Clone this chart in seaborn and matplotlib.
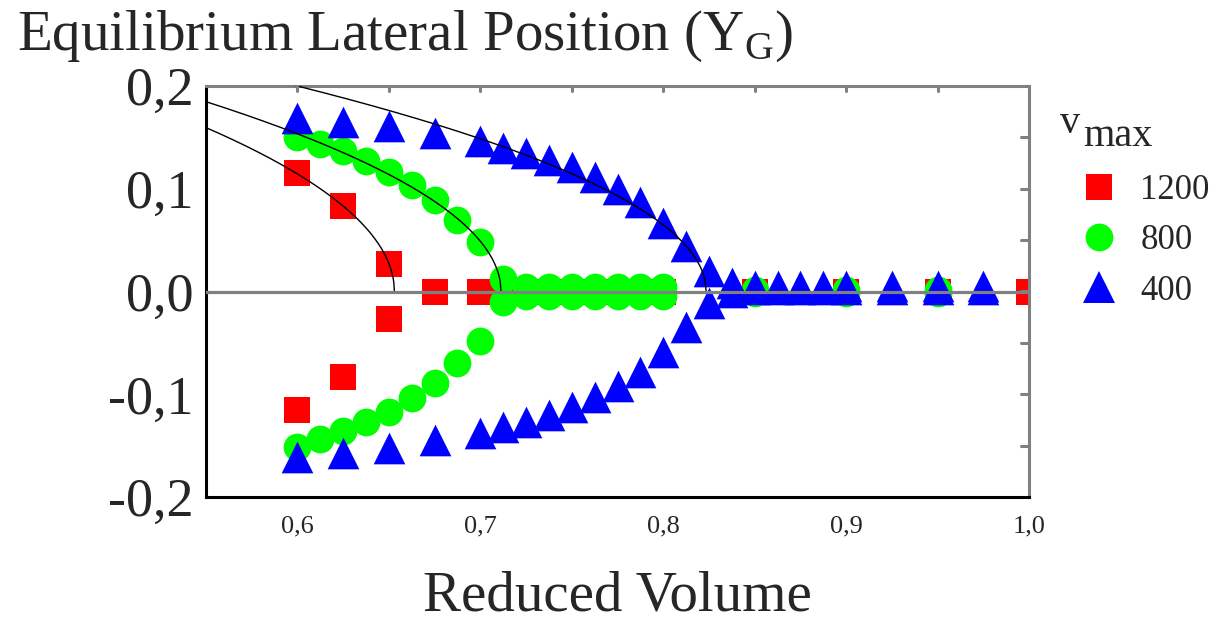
import numpy as np
import pandas as pd
import matplotlib
matplotlib.use("Agg")
import matplotlib.pyplot as plt
import seaborn as sns
from matplotlib.lines import Line2D
from matplotlib.ticker import MultipleLocator, FuncFormatter

# reduced volume for each v_max series (upper and lower branches share x)
vol_1200 = [0.6, 0.625, 0.65, 0.675, 0.7, 0.7125, 0.725, 0.7375, 0.75, 0.7625,
            0.775, 0.7875, 0.8, 0.85, 0.9, 0.95, 1.0]
yg_1200_up = [0.115, 0.083, 0.027, 0.0, 0.0, 0.0, 0.0, 0.0, 0.0, 0.0,
              0.0, 0.0, 0.0, 0.0, 0.0, 0.0, 0.0]
yg_1200_lo = [-0.115, -0.083, -0.027, 0.0, 0.0, 0.0, 0.0, 0.0, 0.0, 0.0,
              0.0, 0.0, 0.0, 0.0, 0.0, 0.0, 0.0]

vol_800 = [0.6, 0.6125, 0.625, 0.6375, 0.65, 0.6625, 0.675, 0.6875, 0.7, 0.7125,
           0.725, 0.7375, 0.75, 0.7625, 0.775, 0.7875, 0.8, 0.85, 0.9, 0.95]
yg_800_up = [0.150, 0.144, 0.137, 0.127, 0.116, 0.104, 0.089, 0.070, 0.048, 0.012,
             0.004, 0.004, 0.004, 0.004, 0.004, 0.004, 0.004, 0.001, 0.001, 0.001]
yg_800_lo = [-0.151, -0.144, -0.136, -0.127, -0.117, -0.104, -0.089, -0.070, -0.048, -0.010,
             -0.004, -0.004, -0.004, -0.004, -0.004, -0.004, -0.004, -0.001, -0.001, -0.001]

vol_400 = [0.6, 0.625, 0.65, 0.675, 0.7, 0.7125, 0.725, 0.7375, 0.75, 0.7625,
           0.775, 0.7875, 0.8, 0.8125, 0.825, 0.8375, 0.85, 0.8625, 0.875, 0.8875,
           0.9, 0.925, 0.95, 0.975]
yg_400_up = [0.169, 0.165, 0.161, 0.154, 0.146, 0.140, 0.135, 0.128, 0.121, 0.111,
             0.100, 0.087, 0.067, 0.044, 0.020, 0.008, 0.005, 0.005, 0.005, 0.005,
             0.005, 0.005, 0.005, 0.005]
yg_400_lo = [-0.161, -0.157, -0.152, -0.145, -0.138, -0.132, -0.127, -0.120, -0.112, -0.103,
             -0.092, -0.078, -0.059, -0.035, -0.011, 0.0, 0.002, 0.002, 0.002, 0.002,
             0.002, 0.002, 0.002, 0.002]

# square-root fits  Y = amp * sqrt(vc - v)
fit_vc = [0.653, 0.7113, 0.8235]
fit_amp = [0.497, 0.460, 0.423]

series_labels = ["1200", "800", "400"]
series_colors = ["#ff0000", "#00ff00", "#0000ff"]
series_markers = ["s", "o", "^"]
series_sizes = [330, 400, 520]

sns.set_style("white")
plt.rcParams["font.family"] = ["Liberation Serif", "DejaVu Serif"]
plt.rcParams["mathtext.fontset"] = "custom"
plt.rcParams["mathtext.rm"] = "Liberation Serif"
plt.rcParams["axes.unicode_minus"] = False

fig = plt.figure(figsize=(12.16, 6.22), dpi=100)
ax = fig.add_axes([206 / 1216, 1 - 497 / 622, (1029 - 206) / 1216, (497 - 86) / 622])

rows = []
for lab, v, up, lo in [("1200", vol_1200, yg_1200_up, yg_1200_lo),
                       ("800", vol_800, yg_800_up, yg_800_lo),
                       ("400", vol_400, yg_400_up, yg_400_lo)]:
    for x, y in zip(v, up):
        rows.append((lab, x, y))
    for x, y in zip(v, lo):
        rows.append((lab, x, y))
df = pd.DataFrame(rows, columns=["vmax", "volume", "yg"])

for i, lab in enumerate(series_labels):
    sub = df[df["vmax"] == lab]
    sns.scatterplot(data=sub, x="volume", y="yg", ax=ax, color=series_colors[i],
                    marker=series_markers[i], s=series_sizes[i], linewidth=0,
                    zorder=2 + i, legend=False)

for vc, amp in zip(fit_vc, fit_amp):
    v = np.linspace(0.55, vc, 400)
    ax.plot(v, amp * np.sqrt(np.clip(vc - v, 0, None)), color="black", lw=1.0, zorder=6)

ax.axhline(0, color="#808080", lw=2.3, zorder=7)

ax.set_xlim(0.55, 1.0)
ax.set_ylim(-0.2, 0.2)

comma = FuncFormatter(lambda v, p: f"{v:.1f}".replace(".", ","))
ax.xaxis.set_major_locator(MultipleLocator(0.1))
ax.xaxis.set_minor_locator(MultipleLocator(0.05))
ax.yaxis.set_major_locator(MultipleLocator(0.1))
ax.yaxis.set_minor_locator(MultipleLocator(0.05))
ax.xaxis.set_major_formatter(comma)
ax.yaxis.set_major_formatter(comma)

ax.tick_params(axis="x", which="major", direction="out", length=7, width=2.2,
               color="black", labelsize=19, pad=6, top=False)
ax.tick_params(axis="x", which="minor", direction="out", length=4, width=2.2,
               color="black", top=False)
ax.tick_params(axis="y", which="major", direction="out", length=7, width=2.2,
               color="black", labelsize=39, pad=2, right=False)
ax.tick_params(axis="y", which="minor", direction="out", length=4, width=2.2,
               color="black", right=False)

# grey top / right frame with inward ticks
for s in ["left", "bottom"]:
    ax.spines[s].set_color("black")
    ax.spines[s].set_linewidth(2.2)
for s in ["top", "right"]:
    ax.spines[s].set_color("#808080")
    ax.spines[s].set_linewidth(2.2)

for xv in np.arange(0.6, 1.0, 0.05):
    ax.plot([xv, xv], [0.2, 0.195], color="#808080", lw=2.2, clip_on=False, zorder=8)
for yv in np.arange(-0.15, 0.2, 0.05):
    ax.plot([1.0, 0.9955], [yv, yv], color="#808080", lw=2.2, clip_on=False, zorder=8)

ax.set_xlabel("Reduced Volume", fontsize=41, labelpad=24)
ax.set_ylabel("")

fig.text(0.014, 0.92, "Equilibrium Lateral Position (Y$_{\\mathrm{G}}$)", fontsize=41,
         ha="left", va="baseline")

# legend
fig.text(1060 / 1216, 1 - 133 / 622, "v", fontsize=29, ha="left", va="baseline")
fig.text(1083 / 1216, 1 - 146 / 622, "max", fontsize=29, ha="left", va="baseline")
handles = [Line2D([], [], ls="none", marker=m, color=c, markersize=np.sqrt(s), mew=0)
           for m, c, s in zip(series_markers, series_colors, series_sizes)]
ax.legend(handles, series_labels, loc="upper left", bbox_to_anchor=(1064 / 1216, 1 - 160 / 622),
          bbox_transform=fig.transFigure, frameon=False, fontsize=25,
          handletextpad=0.6, labelspacing=0.5, borderaxespad=0, handlelength=1.2)

fig.savefig("out.png", dpi=100)
